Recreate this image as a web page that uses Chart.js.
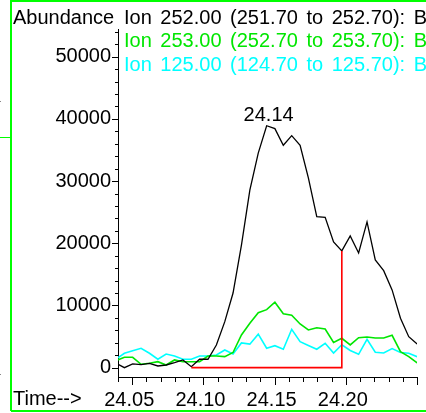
<!DOCTYPE html>
<html>
<head>
<meta charset="utf-8">
<script src="https://cdn.jsdelivr.net/npm/chart.js@4/dist/chart.umd.min.js"></script>
<style>
  html, body { margin: 0; padding: 0; background: #ffffff; overflow: hidden; }
  #chart { display: block; }
</style>
</head>
<body>
<canvas id="chart" width="426" height="413"></canvas>
<script>
// Retention times (min) of the scans
const times = [
  24.0386, 24.0445, 24.0503, 24.0562, 24.0621, 24.0680, 24.0738, 24.0797,
  24.0856, 24.0915, 24.0973, 24.1032, 24.1091, 24.1150, 24.1208, 24.1267,
  24.1326, 24.1385, 24.1444, 24.1502, 24.1561, 24.1620, 24.1679, 24.1737,
  24.1796, 24.1855, 24.1914, 24.1972, 24.2031, 24.2090, 24.2149, 24.2207,
  24.2266, 24.2325, 24.2384, 24.2442, 24.2501
];

// Extracted ion abundances
const ion252 = [
  700, 0, 600, 480, 700, 270, 430, 800,
  1240, 160, 1350, 1350, 3650, 7400, 12000, 19700,
  28550, 34500, 38900, 38430, 35760, 37300, 35760, 30500,
  24280, 24180, 20210, 18770, 21180, 18450, 23430, 17320,
  15600, 12500, 7940, 4980, 3800
];
const ion253 = [
  1130, 1670, 1670, 550, 710, 960, 430, 1240,
  960, 960, 960, 1880, 1880, 1770, 2440, 5260,
  7140, 8840, 9330, 10520, 8680, 8420, 7030, 6060,
  6420, 6220, 4050, 4730, 3650, 4820, 4940, 4780,
  4780, 5210, 2570, 1770, 760
];
const ion125 = [
  1350, 2320, 2730, 3120, 2320, 1350, 2200, 1880,
  1350, 1350, 1880, 1880, 2040, 2850, 2200, 3970,
  3780, 5390, 3120, 3540, 2960, 6170, 4180, 3570,
  2960, 3920, 2350, 3680, 2770, 2150, 4570, 2490,
  2360, 3060, 2440, 2320, 1770
];

// Integration baseline of the 252 peak (start / end times, level)
const baselineTimes = [24.0915, 24.1972];
const baselineLevel = 0;

const seriesLabels = [
  'Ion 252.00 (251.70 to 252.70): B',
  'Ion 253.00 (252.70 to 253.70): B',
  'Ion 125.00 (124.70 to 125.70): B'
];
const seriesColors = ['#000000', '#00e600', '#00ffff'];

const xTickValues = [24.05, 24.10, 24.15, 24.20];
const xTickLabels = ['24.05', '24.10', '24.15', '24.20'];
const yTickValues = [0, 10000, 20000, 30000, 40000, 50000];
const yTickLabels = ['0', '10000', '20000', '30000', '40000', '50000'];

const xRange = [24.04, 24.25];
const yRange = [-1500, 54450];

const FONT = '20px "Liberation Sans", Arial, sans-serif';

function pts(ys) { return times.map((t, i) => ({ x: t, y: ys[i] })); }

// Draws a line of text with widened gaps between words
function spacedText(ctx, text, x, y, extra) {
  if ('wordSpacing' in ctx) {
    ctx.wordSpacing = extra + 'px';
    ctx.fillText(text, x, y);
    ctx.wordSpacing = '0px';
    return;
  }
  const space = ctx.measureText(' ').width + extra;
  text.split(' ').forEach(w => {
    ctx.fillText(w, x, y);
    x += ctx.measureText(w).width + space;
  });
}

const peakIndex = ion252.indexOf(Math.max(...ion252));
const endIndex = times.indexOf(baselineTimes[1]);

const decor = {
  id: 'decor',
  beforeDraw(chart) {
    const ctx = chart.ctx;
    ctx.save();
    ctx.fillStyle = '#ffffff';
    ctx.fillRect(0, 0, chart.width, chart.height);
    // window frame
    ctx.strokeStyle = '#00ff00';
    ctx.lineWidth = 2;
    ctx.beginPath();
    ctx.moveTo(11, 411); ctx.lineTo(11, 1); ctx.lineTo(chart.width + 2, 1);
    ctx.moveTo(11, 411); ctx.lineTo(chart.width + 2, 411);
    ctx.stroke();
    ctx.lineWidth = 1;
    ctx.beginPath();
    ctx.moveTo(0, 137.5); ctx.lineTo(10, 137.5);
    ctx.stroke();
    ctx.fillStyle = '#888888';
    ctx.fillRect(0, 101, 1, 1);
    ctx.fillRect(0, 374, 1, 1);
    ctx.restore();
  },
  afterDraw(chart) {
    const ctx = chart.ctx;
    const xs = chart.scales.x, ys = chart.scales.y;
    const area = chart.chartArea;
    ctx.save();
    ctx.strokeStyle = '#000000';
    ctx.lineWidth = 1;
    ctx.beginPath();
    // y tick marks: major every 10000, minor every 2000
    for (let v = 0; v <= yRange[1]; v += 2000) {
      const y = Math.round(ys.getPixelForValue(v)) + 0.5;
      const len = v % 10000 === 0 ? 6 : 3;
      ctx.moveTo(area.left, y); ctx.lineTo(area.left - len, y);
    }
    // x tick marks: major every 0.05, minor every 0.01
    for (let k = 0; k <= 21; k++) {
      const v = 24.04 + k * 0.01;
      const x = Math.round(xs.getPixelForValue(v)) + 0.5;
      const len = (k + 4) % 5 === 0 ? 8 : 5;
      ctx.moveTo(x, area.bottom); ctx.lineTo(x, area.bottom + len);
    }
    ctx.stroke();

    ctx.font = FONT;
    ctx.textBaseline = 'alphabetic';
    ctx.textAlign = 'left';
    ctx.fillStyle = '#000000';
    ctx.fillText('Abundance', 13, 24);
    ctx.fillText('Time-->', 13, 405);
    const baselines = [24, 47, 71];
    seriesLabels.forEach((s, i) => {
      ctx.fillStyle = seriesColors[i];
      spacedText(ctx, s, 124, baselines[i], 3);
    });
    // apex retention time
    ctx.fillStyle = '#000000';
    ctx.textAlign = 'center';
    const px = xs.getPixelForValue(times[peakIndex]);
    const py = ys.getPixelForValue(ion252[peakIndex]);
    ctx.fillText(times[peakIndex].toFixed(2), px + 2, py - 5);
    ctx.restore();
  }
};

new Chart(document.getElementById('chart'), {
  type: 'line',
  data: {
    datasets: [
      {
        label: 'baseline',
        data: [
          { x: baselineTimes[0], y: baselineLevel },
          { x: baselineTimes[1], y: baselineLevel },
          { x: baselineTimes[1], y: ion252[endIndex] }
        ],
        borderColor: '#ff0000', borderWidth: 1.6
      },
      { label: seriesLabels[0], data: pts(ion252), borderColor: seriesColors[0], borderWidth: 1.3 },
      { label: seriesLabels[1], data: pts(ion253), borderColor: seriesColors[1], borderWidth: 1.6 },
      { label: seriesLabels[2], data: pts(ion125), borderColor: seriesColors[2], borderWidth: 1.6 }
    ]
  },
  options: {
    responsive: false,
    animation: false,
    devicePixelRatio: 1,
    layout: { padding: { top: 29, right: 9, left: 0, bottom: 0 } },
    elements: { point: { radius: 0 }, line: { tension: 0, fill: false } },
    plugins: { legend: { display: false }, tooltip: { enabled: false } },
    scales: {
      x: {
        type: 'linear',
        min: xRange[0], max: xRange[1],
        afterFit(s) { s.height = 36; },
        afterBuildTicks(s) { s.ticks = xTickValues.map(v => ({ value: v })); },
        grid: { drawOnChartArea: false, drawTicks: false },
        border: { display: true, color: '#000000', width: 1 },
        ticks: {
          autoSkip: false, maxRotation: 0, padding: 11, labelOffset: -3,
          color: '#000000', font: { family: '"Liberation Sans", Arial, sans-serif', size: 20 },
          callback: (v) => xTickLabels[xTickValues.indexOf(v)]
        }
      },
      y: {
        type: 'linear',
        min: yRange[0], max: yRange[1],
        afterFit(s) { s.width = 118; },
        afterBuildTicks(s) { s.ticks = yTickValues.map(v => ({ value: v })); },
        grid: { drawOnChartArea: false, drawTicks: false },
        border: { display: true, color: '#000000', width: 1 },
        ticks: {
          autoSkip: false, padding: 7,
          color: '#000000', font: { family: '"Liberation Sans", Arial, sans-serif', size: 20 },
          callback: (v) => yTickLabels[yTickValues.indexOf(v)]
        }
      }
    }
  },
  plugins: [decor]
});
</script>
</body>
</html>
